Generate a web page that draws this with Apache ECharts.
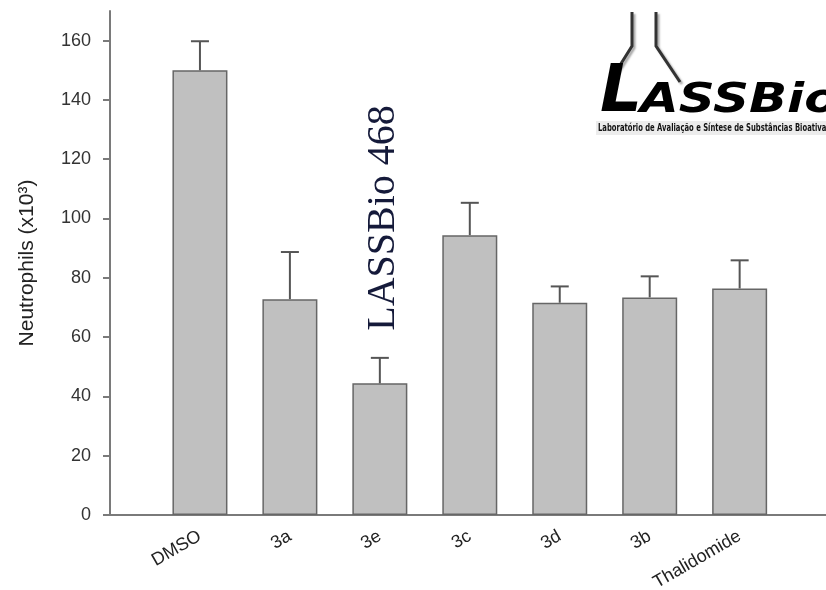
<!DOCTYPE html>
<html>
<head>
<meta charset="utf-8">
<script src="https://cdn.jsdelivr.net/npm/echarts@6/dist/echarts.min.js"></script>
<style>
	html, body { margin: 0; padding: 0; background: #fff; }
	#chart { width: 826px; height: 590px; }
</style>
</head>
<body>
<div id="chart"></div>
<script>
// data
var categories = ['DMSO', '3a', '3e', '3c', '3d', '3b', 'Thalidomide'];
var neutrophils = [150, 72.8, 44.4, 94.4, 71.6, 73.4, 76.4];
var errors = [9.8, 15.9, 8.6, 10.9, 5.5, 7.1, 9.5];
var yTicks = [0, 20, 40, 60, 80, 100, 120, 140, 160];
var xPositions = [1, 2, 3, 4, 5, 6, 7];

window.onload = function () {
	"use strict";
	var chart = echarts.init(document.getElementById('chart'), null, { renderer: 'canvas' });

	var barData = categories.map(function (c, i) {
		return [xPositions[i], neutrophils[i]];
	});
	var errData = categories.map(function (c, i) {
		return [xPositions[i], neutrophils[i], neutrophils[i] + errors[i]];
	});

	var axisColor = '#7a7a7a';
	var font = 'Liberation Sans, Arial, sans-serif';

	var option = {
		backgroundColor: '#fff',
		animation: false,
		grid: {
			left: 110,
			right: 0,
			top: 11,
			bottom: 75,
			containLabel: false,
			outerBoundsMode: 'none'
		},
		xAxis: {
			type: 'value',
			min: 0,
			max: 7.96,
			splitLine: { show: false },
			axisTick: { show: false },
			axisLine: {
				onZero: false,
				lineStyle: { color: axisColor, width: 2 }
			},
			axisLabel: {
				customValues: xPositions,
				rotate: 30,
				margin: 20,
				fontSize: 18,
				fontFamily: font,
				color: '#222',
				formatter: function (v) {
					return categories[Math.round(v) - 1] || '';
				}
			}
		},
		yAxis: {
			type: 'value',
			min: 0,
			max: 170,
			name: 'Neutrophils (x10³)',
			nameLocation: 'middle',
			nameGap: 72,
			nameTextStyle: {
				fontSize: 21,
				fontFamily: font,
				color: '#222'
			},
			splitLine: { show: false },
			axisLine: {
				show: true,
				lineStyle: { color: axisColor, width: 2 }
			},
			axisTick: {
				show: true,
				customValues: yTicks,
				length: 7,
				lineStyle: { color: axisColor, width: 2 }
			},
			axisLabel: {
				customValues: yTicks,
				margin: 19,
				fontSize: 18,
				fontFamily: font,
				color: '#333'
			}
		},
		series: [{
			type: 'bar',
			silent: true,
			barWidth: 55,
			data: barData,
			itemStyle: {
				color: '#c0c0c0',
				borderColor: '#666',
				borderWidth: 1.5
			}
		}, {
			type: 'custom',
			silent: true,
			z: 3,
			data: errData,
			encode: { x: 0, y: [1, 2] },
			renderItem: function (params, api) {
				var base = api.coord([api.value(0), api.value(1)]);
				var top = api.coord([api.value(0), api.value(2)]);
				var half = 9;
				var st = { stroke: '#555', lineWidth: 2 };
				return {
					type: 'group',
					children: [{
						type: 'line',
						shape: { x1: base[0], y1: base[1], x2: top[0], y2: top[1] },
						style: st
					}, {
						type: 'line',
						shape: { x1: top[0] - half, y1: top[1], x2: top[0] + half, y2: top[1] },
						style: st
					}]
				};
			}
		}],
		graphic: {
			elements: [
				// vertical caption
				{
					type: 'text',
					x: 383,
					y: 218,
					rotation: Math.PI / 2,
					style: {
						text: 'LASSBio 468',
						font: '40px "Liberation Serif", "Times New Roman", serif',
						fill: '#151a3a',
						align: 'center',
						verticalAlign: 'middle'
					}
				},
				// logo: flask
				{
					type: 'polyline',
					shape: { points: [[632, 12], [632, 46], [612, 78]] },
					style: { stroke: '#333', lineWidth: 3, fill: null, shadowColor: 'rgba(0,0,0,0.35)', shadowOffsetX: 2, shadowOffsetY: 2, shadowBlur: 2 }
				},
				{
					type: 'polyline',
					shape: { points: [[656, 12], [656, 46], [680, 82]] },
					style: { stroke: '#333', lineWidth: 3, fill: null, shadowColor: 'rgba(0,0,0,0.35)', shadowOffsetX: 2, shadowOffsetY: 2, shadowBlur: 2 }
				},
				// logo: letters
				{
					type: 'text',
					x: 600,
					y: 127,
					style: {
						text: 'L',
						font: 'italic bold 66px "DejaVu Sans", sans-serif',
						fill: '#000',
						verticalAlign: 'bottom'
					}
				},
				{
					type: 'text',
					x: 640,
					y: 122,
					scaleX: 1.25,
					style: {
						text: 'ASSBio',
						font: 'italic bold 40px "DejaVu Sans", sans-serif',
						fill: '#000',
						verticalAlign: 'bottom'
					}
				},
				{
					type: 'rect',
					shape: { x: 596, y: 121, width: 230, height: 14 },
					style: { fill: '#ececec' }
				},
				{
					type: 'text',
					x: 598,
					y: 128,
					scaleX: 0.62,
					style: {
						text: 'Laboratório de Avaliação e Síntese de Substâncias Bioativas',
						font: 'bold 11px "DejaVu Sans", sans-serif',
						fill: '#111',
						verticalAlign: 'middle'
					}
				}
			]
		}
	};

	chart.setOption(option);
};
</script>
</body>
</html>
